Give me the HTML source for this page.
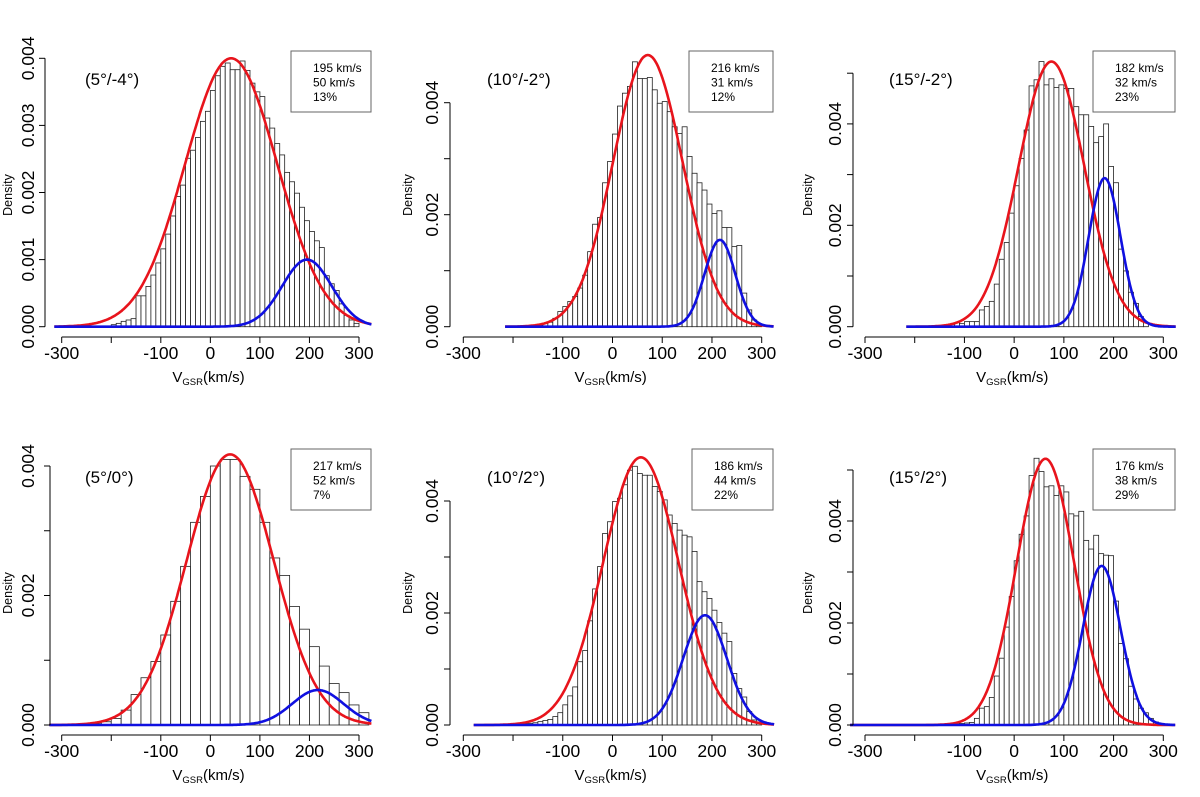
<!DOCTYPE html>
<html><head><meta charset="utf-8">
<style>
html,body{margin:0;padding:0;background:#fff;}
svg{display:block;font-family:"Liberation Sans",Arial,sans-serif;}
</style></head>
<body>
<svg id="fig" width="1200" height="797" viewBox="0 0 1200 797" xmlns="http://www.w3.org/2000/svg"></svg>
<script>
// ---- data: histogram densities (bin start, bin width, densities) and fitted gaussian params [mean, sd, peak] ----
const xTicks = [-300,-200,-100,0,100,200,300];
const xTickLabels = ["-300","","-100","0","100","200","300"];

const p1Start = -200, p1Width = 10;
const p1Density = [0.00003,0.00005,0.00008,0.0001,0.00012,0.00046,0.00046,0.0006,0.00077,0.00095,0.00116,0.00138,0.00165,0.00194,0.00211,0.00251,0.00263,0.00282,0.00306,0.00321,0.00352,0.00374,0.00388,0.00393,0.00383,0.00383,0.00396,0.00382,0.00363,0.0035,0.00343,0.00311,0.00296,0.00273,0.00256,0.0023,0.00216,0.00199,0.00178,0.00158,0.00142,0.00128,0.00118,0.00076,0.00064,0.00054,0.00034,0.00017,0.0001,0.00005];
const p1Red = [42, 93, 0.004];
const p1Blue = [195, 50, 0.001];
const p1Legend = ["195 km/s","50 km/s","13%"];

const p2Start = -190, p2Width = 10;
const p2Density = [0.00001,0.00001,0.00002,0.00002,0.00003,0.00006,0.00008,0.00015,0.00027,0.00036,0.00045,0.00054,0.00069,0.00092,0.00134,0.00183,0.00195,0.00257,0.00295,0.00344,0.00394,0.00417,0.00429,0.00473,0.00443,0.00443,0.00445,0.00423,0.00399,0.00402,0.00384,0.00357,0.00345,0.00357,0.00304,0.00274,0.00257,0.00244,0.00219,0.00202,0.00207,0.00177,0.00177,0.00143,0.00145,0.0006,0.0003,0.00012,0.00005];
const p2Red = [71, 70, 0.00485];
const p2Blue = [216, 31, 0.00155];
const p2Legend = ["216 km/s","31 km/s","12%"];

const p3Start = -150, p3Width = 10;
const p3Density = [0.00002,0.00003,0.00005,0.00008,0.00006,0.0001,0.0001,0.0001,0.00033,0.0004,0.0005,0.00084,0.00133,0.00166,0.00224,0.00278,0.00332,0.00388,0.00475,0.00487,0.00523,0.00477,0.00489,0.00472,0.00477,0.0047,0.0047,0.00434,0.00418,0.00418,0.00395,0.00363,0.00375,0.004,0.00316,0.00284,0.00153,0.0011,0.00068,0.00046,0.0002,0.00008];
const p3Red = [75, 66, 0.00523];
const p3Blue = [182, 32, 0.00293];
const p3Legend = ["182 km/s","32 km/s","23%"];

const p4Start = -240, p4Width = 20;
const p4Density = [0.00002,0.00005,0.0001,0.00023,0.00047,0.00073,0.00098,0.00139,0.00191,0.00245,0.00313,0.00353,0.004,0.0041,0.0041,0.00384,0.00364,0.00313,0.00258,0.00231,0.00183,0.00148,0.00121,0.00091,0.00064,0.0005,0.00031,0.00019];
const p4Red = [40, 88, 0.00418];
const p4Blue = [217, 52, 0.00054];
const p4Legend = ["217 km/s","52 km/s","7%"];

const p5Start = -190, p5Width = 10;
const p5Density = [0.00001,0.00002,0.00003,0.00004,0.00006,0.00008,0.0001,0.00015,0.00022,0.00036,0.00052,0.00068,0.00113,0.00133,0.00186,0.00243,0.00283,0.00342,0.00363,0.00399,0.00405,0.00429,0.00455,0.00462,0.00449,0.00446,0.00446,0.00426,0.00417,0.00402,0.00375,0.0036,0.00348,0.00339,0.00336,0.0031,0.00256,0.00238,0.00226,0.00205,0.00183,0.00164,0.00149,0.00092,0.00065,0.0005,0.00024,0.00009,0.00005];
const p5Red = [57, 76, 0.00478];
const p5Blue = [186, 44, 0.00196];
const p5Legend = ["186 km/s","44 km/s","22%"];

const p6Start = -120, p6Width = 10;
const p6Density = [0.00003,0.00003,0.00004,0.00005,0.00013,0.00033,0.00036,0.00054,0.00096,0.00131,0.00192,0.00252,0.00322,0.00374,0.0041,0.00489,0.00523,0.00497,0.00467,0.00469,0.0045,0.00469,0.00457,0.00414,0.0041,0.00419,0.00362,0.00345,0.00372,0.00336,0.00333,0.00332,0.00243,0.0016,0.0013,0.00076,0.00051,0.00033,0.00024,0.00013,0.00006];
const p6Red = [63, 58, 0.00522];
const p6Blue = [176, 38, 0.00312];
const p6Legend = ["176 km/s","38 km/s","29%"];

const p1YTicks=[0,0.001,0.002,0.003,0.004], p1YLabels=["0.000","0.001","0.002","0.003","0.004"];
const p2YTicks=[0,0.001,0.002,0.003,0.004], p2YLabels=["0.000","","0.002","","0.004"];
const p3YTicks=[0,0.001,0.002,0.003,0.004,0.005], p3YLabels=["0.000","","0.002","","0.004",""];
const p4YTicks=[0,0.001,0.002,0.003,0.004], p4YLabels=["0.000","","0.002","","0.004"];
const p5YTicks=[0,0.001,0.002,0.003,0.004], p5YLabels=["0.000","","0.002","","0.004"];
const p6YTicks=[0,0.001,0.002,0.003,0.004,0.005], p6YLabels=["0.000","","0.002","","0.004",""];

// ---- layout (pixel geometry per panel) ----
const panels = [
 {id:"p1",title:"(5°/-4°)",start:p1Start,width:p1Width,dens:p1Density,red:p1Red,blue:p1Blue,legend:p1Legend,yt:p1YTicks,yl:p1YLabels,
  xL:61.7,xR:359,y0:326.7,yPer:67.1,yAx:45,axY:337,lbX:28,titleX:85,titleY:85,box:[291,51,80,61],curveFrom:-315,oy:0,ox:0,densY:195},
 {id:"p2",title:"(10°/-2°)",start:p2Start,width:p2Width,dens:p2Density,red:p2Red,blue:p2Blue,legend:p2Legend,yt:p2YTicks,yl:p2YLabels,
  xL:463.3,xR:761.7,y0:326.7,yPer:56,yAx:450,axY:337,lbX:432,titleX:487,titleY:85,box:[689,51,84,61],curveFrom:-216,oy:0,ox:400,densY:195},
 {id:"p3",title:"(15°/-2°)",start:p3Start,width:p3Width,dens:p3Density,red:p3Red,blue:p3Blue,legend:p3Legend,yt:p3YTicks,yl:p3YLabels,
  xL:865,xR:1163.3,y0:326.7,yPer:50.7,yAx:853,axY:337,lbX:835,titleX:889,titleY:85,box:[1093,51,82,61],curveFrom:-217,oy:0,ox:800,densY:195},
 {id:"p4",title:"(5°/0°)",start:p4Start,width:p4Width,dens:p4Density,red:p4Red,blue:p4Blue,legend:p4Legend,yt:p4YTicks,yl:p4YLabels,
  xL:61.7,xR:359,y0:725,yPer:64.75,yAx:50,axY:735,lbX:28,titleX:85,titleY:483,box:[291,449,80,61],curveFrom:-325,oy:400,ox:0,densY:593},
 {id:"p5",title:"(10°/2°)",start:p5Start,width:p5Width,dens:p5Density,red:p5Red,blue:p5Blue,legend:p5Legend,yt:p5YTicks,yl:p5YLabels,
  xL:463.3,xR:761.7,y0:725,yPer:56,yAx:450,axY:735,lbX:432,titleX:487,titleY:483,box:[692,449,81,61],curveFrom:-279,oy:400,ox:400,densY:593},
 {id:"p6",title:"(15°/2°)",start:p6Start,width:p6Width,dens:p6Density,red:p6Red,blue:p6Blue,legend:p6Legend,yt:p6YTicks,yl:p6YLabels,
  xL:865,xR:1163.3,y0:725,yPer:51,yAx:853,axY:735,lbX:835,titleX:889,titleY:483,box:[1093,449,82,61],curveFrom:-330,oy:400,ox:800,densY:593}
];

const NS="http://www.w3.org/2000/svg";
const svg=document.getElementById("fig");
function mk(tag,attrs,parent){const e=document.createElementNS(NS,tag);for(const k in attrs)e.setAttribute(k,attrs[k]);(parent||svg).appendChild(e);return e;}
function gauss(v,p){return p[2]*Math.exp(-0.5*Math.pow((v-p[0])/p[1],2));}

panels.forEach(P=>{
  const sx=v=>P.xL+(v+300)*(P.xR-P.xL)/600;
  const sy=d=>P.y0-d*1000*P.yPer;
  const g=mk("g",{});
  
  

  const bars=mk("g",{},g);
  
  
  P.dens.forEach((d,i)=>{
    const a=P.start+i*P.width, b=a+P.width;
    const r=mk("rect",{x:sx(a),y:sy(d),width:sx(b)-sx(a),height:sy(0)-sy(d),fill:"#fff",stroke:"#222","stroke-width":0.8},bars);
    
    
  });

  [["red","#e8141c"],["blue","#1010e0"]].forEach(([k,c])=>{
    const p=P[k]; let pts=[];
    for(let v=P.curveFrom; v<=325; v+=2) pts.push(sx(v).toFixed(1)+","+sy(gauss(v,p)).toFixed(1));
    const pl=mk("polyline",{points:pts.join(" "),fill:"none",stroke:c,"stroke-width":2.6,"stroke-linejoin":"round"},g);
    
    
  });

  const xa=mk("g",{},g);
  
  
  mk("line",{x1:sx(-300),x2:sx(300),y1:P.axY,y2:P.axY,stroke:"#000","stroke-width":1},xa);
  xTicks.forEach((t,i)=>{
    mk("line",{x1:sx(t),x2:sx(t),y1:P.axY,y2:P.axY+6,stroke:"#000","stroke-width":1},xa);
    if(xTickLabels[i]){
      const tx=mk("text",{x:sx(t),y:P.axY+22,"text-anchor":"middle","font-size":17.5},xa);
      tx.textContent=xTickLabels[i];
      
      
    }
  });
  const xt=mk("text",{x:sx(0)-38,y:P.axY+45,"font-size":15},xa);
  
  
  xt.innerHTML='V<tspan font-size="9.5" dy="3">GSR</tspan><tspan dy="-3">(km/s)</tspan>';

  const ya=mk("g",{},g);
  
  
  const top=P.yt[P.yt.length-1];
  mk("line",{x1:P.yAx,x2:P.yAx,y1:sy(0),y2:sy(top),stroke:"#000","stroke-width":1},ya);
  P.yt.forEach((t,i)=>{
    mk("line",{x1:P.yAx-6,x2:P.yAx,y1:sy(t),y2:sy(t),stroke:"#000","stroke-width":1},ya);
    if(P.yl[i]){
      const tx=mk("text",{x:0,y:0,"text-anchor":"middle","font-size":17.5,transform:`translate(${P.lbX+6},${sy(t)}) rotate(-90)`},ya);
      tx.textContent=P.yl[i];
      
      
    }
  });
  const yt=mk("text",{x:0,y:0,"text-anchor":"middle","font-size":12.5,transform:`translate(${P.ox+12},${P.densY}) rotate(-90)`},ya);
  yt.textContent="Density";
  
  

  const ti=mk("text",{x:P.titleX,y:P.titleY,"font-size":17},g);
  ti.textContent=P.title;
  
  

  const lg=mk("g",{},g);
  
  
  const [bx,by,bw,bh]=P.box;
  mk("rect",{x:bx,y:by,width:bw,height:bh,fill:"#fff",stroke:"#666","stroke-width":1},lg);
  P.legend.forEach((s,i)=>{
    const t=mk("text",{x:bx+22,y:by+21+i*14.5,"font-size":12},lg);
    t.textContent=s;
    
    
  });
});
</script>
</body></html>
